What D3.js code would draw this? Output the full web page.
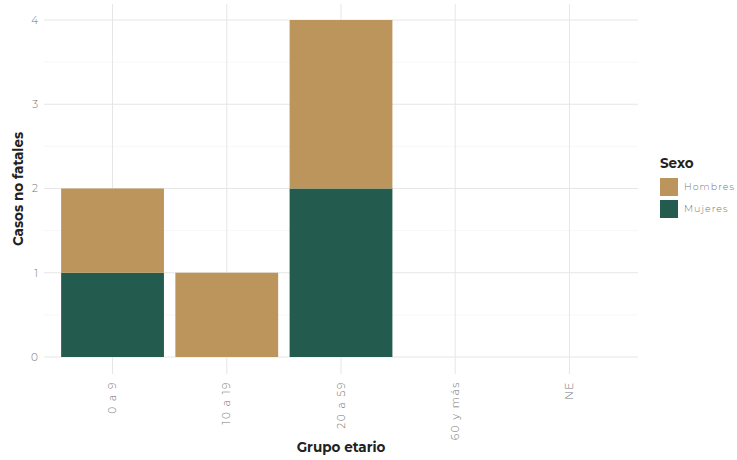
<!DOCTYPE html>
<html><head><meta charset="utf-8">
<script src="https://cdn.jsdelivr.net/npm/d3@7"></script>
<style>body{margin:0;background:#fff;} text{font-family:"Montserrat","Lato","Open Sans",sans-serif;}</style>
</head><body><svg id="c" width="737" height="460"></svg>
<script>
const categories = ["0 a 9","10 a 19","20 a 59","60 y más","NE"];
const mujeres = [1,0,2,0,0];
const hombres = [1,1,2,0,0];
const seriesNames = ["Hombres","Mujeres"];
const seriesColors = ["#BC955C","#235B4E"];
const yTicks = [0,1,2,3,4];

const svg = d3.select("#c");
const px0 = 44, px1 = 638;
const x = d3.scaleBand().domain(categories).range([px0, px1]).paddingInner(0.1).paddingOuter(0.15);
const y = d3.scaleLinear().domain([0,4]).range([357, 20]);
const g = svg.append("g");
// minor grid
[0.5,1.5,2.5,3.5].forEach(v=>g.append("line").attr("x1",px0).attr("x2",px1).attr("y1",y(v)).attr("y2",y(v)).attr("stroke","#f2f2f2").attr("stroke-width",0.6));
yTicks.forEach(v=>g.append("line").attr("x1",px0).attr("x2",px1).attr("y1",y(v)).attr("y2",y(v)).attr("stroke","#e6e6e6").attr("stroke-width",1));
categories.forEach(c=>g.append("line").attr("x1",x(c)+x.bandwidth()/2).attr("x2",x(c)+x.bandwidth()/2).attr("y1",y(4)-16).attr("y2",y(0)+17).attr("stroke","#e6e6e6").attr("stroke-width",1));

// stacks
const data = categories.map((c,i)=>({cat:c, Mujeres:mujeres[i], Hombres:hombres[i]}));
const stack = d3.stack().keys(["Mujeres","Hombres"]);
const layers = stack(data);
layers.forEach(L=>{
  const col = seriesColors[seriesNames.indexOf(L.key)];
  g.selectAll(null).data(L.filter(d=>d[1]>d[0])).enter().append("rect")
   .attr("x",d=>x(d.data.cat)).attr("width",x.bandwidth())
   .attr("y",d=>y(d[1])).attr("height",d=>y(d[0])-y(d[1]))
   .attr("fill",col);
});

// y axis labels
const ya = svg.append("g").attr("transform",`translate(${px0-6},0)`).call(d3.axisLeft(y).tickValues(yTicks).tickSize(0).tickPadding(0).tickFormat(d3.format("d")));
ya.select(".domain").remove();
ya.selectAll("text").attr("fill","#777").attr("font-size",10.5).attr("font-weight",300).attr("font-family","Montserrat,Lato,sans-serif");
// x axis labels
const xa = svg.append("g").attr("transform",`translate(0,${y(0)+24})`).call(d3.axisBottom(x).tickSize(0).tickPadding(0));
xa.select(".domain").remove();
xa.selectAll("text").attr("fill","#777").attr("font-size",10.5).attr("font-weight",300).attr("letter-spacing","1.6px").attr("font-family","Montserrat,Lato,sans-serif")
  .attr("transform","rotate(-90)").attr("text-anchor","end").attr("dy","0.35em").attr("x",0).attr("y",0);

// axis titles
svg.append("text").attr("x",341).attr("y",452).attr("text-anchor","middle").attr("font-weight","bold").attr("font-size",13.5).attr("fill","#222").text("Grupo etario");
svg.append("text").attr("transform","translate(23,189) rotate(-90)").attr("text-anchor","middle").attr("font-weight","bold").attr("font-size",13.5).attr("fill","#222").text("Casos no fatales");

// legend
const lg = svg.append("g").attr("transform","translate(660,0)");
lg.append("text").attr("x",0).attr("y",168).attr("font-weight","bold").attr("font-size",13.5).attr("fill","#222").text("Sexo");
seriesNames.forEach((s,i)=>{
  lg.append("rect").attr("x",0).attr("y",178+i*22).attr("width",18).attr("height",18).attr("fill",seriesColors[i]);
  lg.append("text").attr("x",24).attr("y",187+i*22).attr("dy","0.35em").attr("font-size",9.5).attr("font-weight",300).attr("letter-spacing","1px").attr("fill","#777").text(s);
});
</script></body></html>
